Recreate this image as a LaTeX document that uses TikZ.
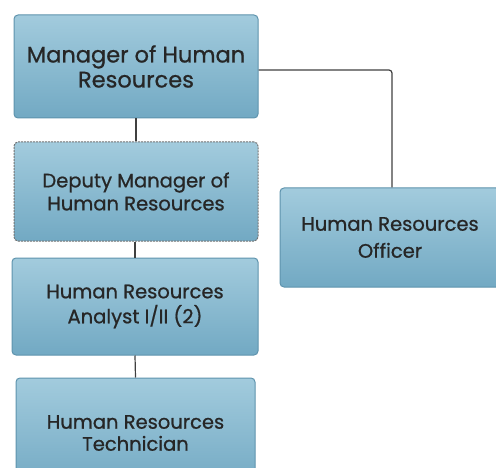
\documentclass[tikz,border=0pt]{standalone}
\usepackage{fontspec}
\setmainfont{Poppins}[UprightFeatures={FakeBold=0.8}]
\begin{document}
\begin{tikzpicture}[x=1pt,y=1pt,
  box/.style={draw=boxedge, line width=1pt, rounded corners=4pt,
    top color=boxtop, bottom color=boxbot, align=center, inner sep=0pt,
    text=black!85},
  link/.style={draw=black!75, line width=1.2pt, rounded corners=3pt}]
\definecolor{boxtop}{HTML}{A2CBDD}
\definecolor{boxbot}{HTML}{72A9C3}
\definecolor{boxedge}{HTML}{5E93AD}
\useasboundingbox (0,0) rectangle (496,467);
\node[box, minimum width=244pt, minimum height=103pt, font=\fontsize{22.5}{25}\selectfont] (mgr) at (136,400.5) {Manager of Human\\Resources};
\node[box, draw=black!55, dash pattern=on 2pt off 1pt, minimum width=244pt, minimum height=99pt, font=\fontsize{19.5}{23}\selectfont] (dep) at (136,275.5) {Deputy Manager of\\Human Resources};
\node[box, minimum width=246pt, minimum height=97pt, font=\fontsize{19.5}{25}\selectfont] (ana) at (135,160.5) {Human Resources\\Analyst I/II (2)};
\node[box, minimum width=239pt, minimum height=110pt, font=\fontsize{19.5}{22}\selectfont] (tec) at (135.5,34) {Human Resources\\Technician};
\node[box, minimum width=220pt, minimum height=99pt, font=\fontsize{19.5}{27}\selectfont] (off) at (390,229.5) {Human Resources\\Officer};
\coordinate (turn) at (392,397);
\draw[link] (mgr.east |- turn) -- (turn) -- (turn |- off.north);
\draw[link] (mgr.south) -- (dep.north);
\draw[link] (dep.south -| ana.north) -- (ana.north);
\draw[link] (ana.south) -- (tec.north);
\end{tikzpicture}
\end{document}
